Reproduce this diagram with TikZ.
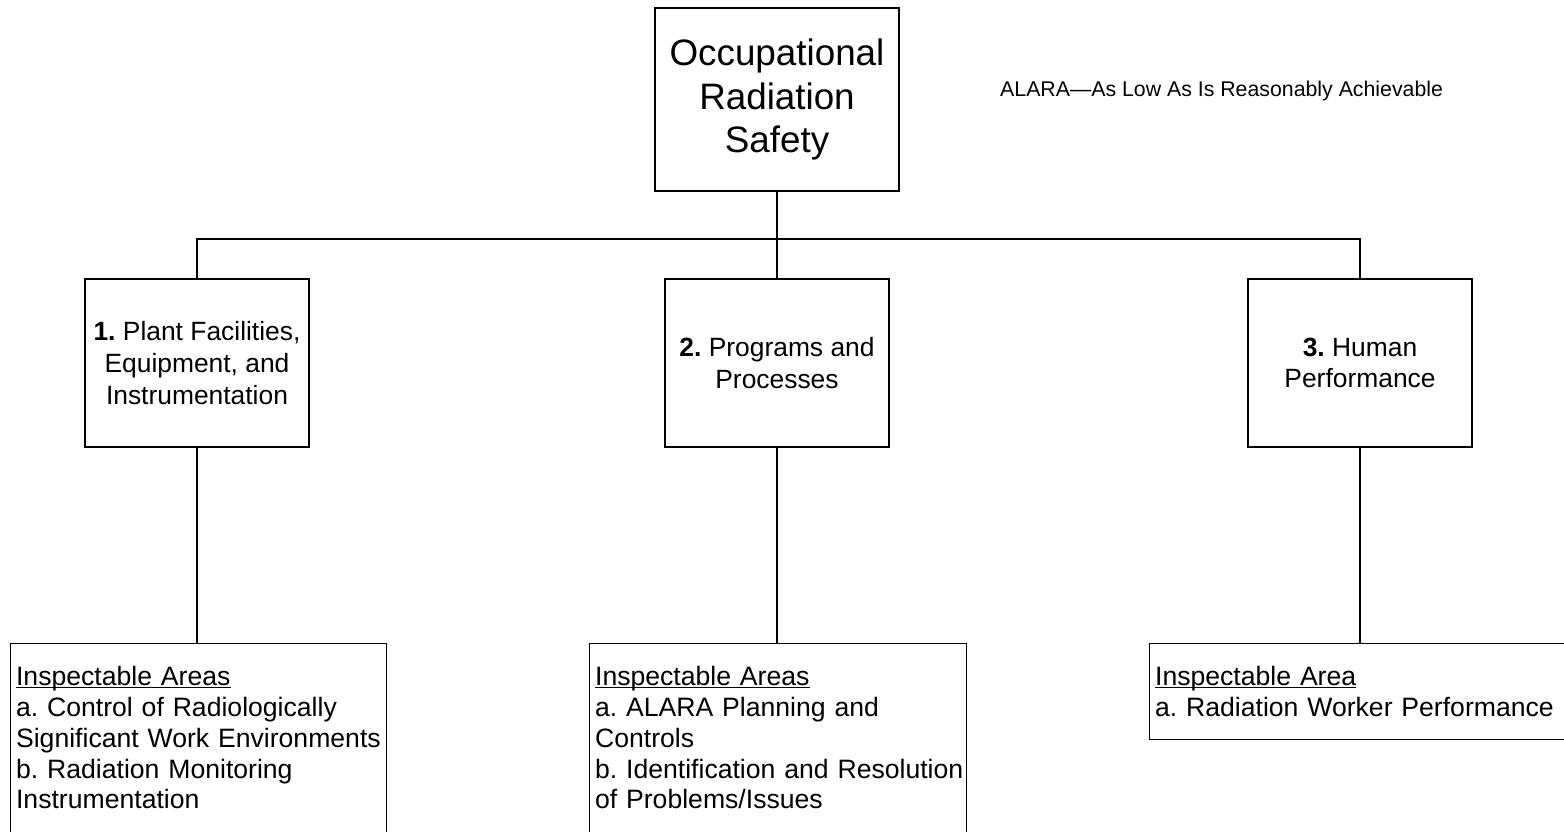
\documentclass[tikz,border=0pt]{standalone}
\usepackage{fontspec}
\setmainfont{Liberation Sans}
\newsavebox\ulinebox
\newcommand{\myuline}[1]{\sbox\ulinebox{#1}\rlap{\rule[-2.6pt]{\wd\ulinebox}{1.3pt}}\usebox\ulinebox}
\newcommand{\areafontsetup}{\fontsize{26.6}{30.8}\selectfont\frenchspacing\hyphenpenalty=10000\relax}
\frenchspacing
\hyphenpenalty=10000
\begin{document}
\begin{tikzpicture}[x=1pt,y=-1pt,
  every node/.style={text=black},
  topbox/.style={draw=black, line width=1.2pt, minimum width=244pt, minimum height=183pt, align=center, inner sep=0pt,
    font=\fontsize{36.8}{43.3}\selectfont},
  catbox/.style={draw=black, line width=1.2pt, minimum width=224pt, minimum height=168pt, align=center, inner sep=0pt,
    font=\fontsize{26.4}{31.7}\selectfont},
  areabox/.style={draw=black, line width=1.2pt, anchor=north west, align=left, inner xsep=5.5pt, inner ysep=22.5pt,
    text height=19.5pt, font=\areafontsetup},
  note/.style={anchor=base west, inner sep=0pt, font=\fontsize{21.3}{25}\selectfont},
  conn/.style={draw=black, line width=1.2pt}
]
\useasboundingbox (0,0) rectangle (1564,832);
\clip (0,0) rectangle (1564,832);
\fill[white] (0,0) rectangle (1564,832);

\node[topbox] (top) at (777,99.5) {Occupational\\Radiation\\Safety};
\node[note] (alara) at (1000,97) {ALARA—As Low As Is Reasonably Achievable};

\node[catbox] (c1) at (197,363) {\textbf{1.} Plant Facilities,\\Equipment, and\\Instrumentation};
\node[catbox] (c2) at (777,363) {\textbf{2.} Programs and\\Processes};
\node[catbox] (c3) at (1360,363) {\textbf{3.} Human\\Performance};

\node[areabox, text width=365pt, text depth=152.5pt] (a1) at (10,643)
  {\myuline{Inspectable Areas}\\a. Control of Radiologically\\\mbox{Significant Work Environments}\\b. Radiation Monitoring\\Instrumentation};
\node[areabox, text width=366pt, text depth=152.5pt] (a2) at (589,643)
  {\myuline{Inspectable Areas}\\a. ALARA Planning and\\Controls\\\mbox{b. Identification and Resolution}\\of Problems/Issues};
\node[areabox, text width=450pt, text depth=31.5pt] (a3) at (1149,643)
  {\myuline{Inspectable Area}\\a. Radiation Worker Performance};

\coordinate (j) at (777,239);
\draw[conn] (top.south) -- (c2.north);
\draw[conn] (c1.north) -- (c1.north |- j) -- (c3.north |- j) -- (c3.north);
\draw[conn] (c1.south) -- (c1.south |- a1.north);
\draw[conn] (c2.south) -- (c2.south |- a2.north);
\draw[conn] (c3.south) -- (c3.south |- a3.north);
\end{tikzpicture}
\end{document}
